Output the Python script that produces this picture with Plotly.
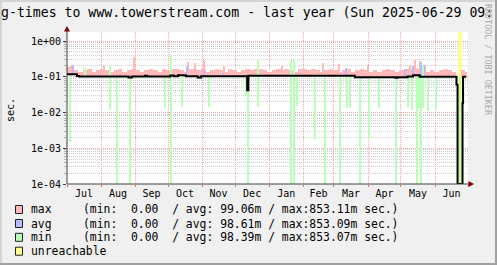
import plotly.graph_objects as go
import numpy as np
import pandas as pd

# ---------------- data ----------------
data_start = "2024-06-29 09:00"
data_end = "2025-06-29 09:00"

# median / main line (step function: value holds from date onward)
line_dates = ["2024-06-29 09:00", "2024-07-10", "2024-07-12", "2024-08-26", "2024-08-29",
              "2024-09-10", "2024-09-12", "2024-10-03", "2024-10-06", "2024-10-10",
              "2024-10-17", "2024-10-28", "2024-10-31", "2024-12-12 00:00", "2024-12-13 02:00",
              "2025-03-20", "2025-04-26", "2025-04-28", "2025-05-07", "2025-05-12",
              "2025-05-18", "2025-06-20 12:00", "2025-06-21 12:00", "2025-06-26 00:00",
              "2025-06-26 12:00"]
line_vals = [0.117, 0.105, 0.102, 0.096, 0.102,
             0.106, 0.102, 0.108, 0.104, 0.110,
             0.103, 0.096, 0.103, 0.042, 0.106,
             0.097, 0.094, 0.097, 0.102, 0.110,
             0.100, 0.060, 0.0001, 0.018,
             0.100]

# max band, 4-day bins from data_start
max_band = [0.19, 0.17, 0.15, 0.14, 0.15, 0.16, 0.14, 0.15, 0.17, 0.15,
            0.14, 0.15, 0.16, 0.14, 0.15, 0.16, 0.15, 0.14, 0.15, 0.16,
            0.15, 0.14, 0.16, 0.15, 0.17, 0.16, 0.15, 0.14, 0.16, 0.17,
            0.15, 0.16, 0.14, 0.15, 0.16, 0.15, 0.14, 0.16, 0.15, 0.14,
            0.15, 0.16, 0.15, 0.17, 0.16, 0.15, 0.14, 0.15, 0.16, 0.15,
            0.16, 0.15, 0.14, 0.16, 0.17, 0.15, 0.16, 0.15, 0.14, 0.15,
            0.16, 0.15, 0.14, 0.15, 0.16, 0.14, 0.15, 0.16, 0.15, 0.14,
            0.15, 0.14, 0.15, 0.16, 0.15, 0.14, 0.15, 0.16, 0.17, 0.18,
            0.17, 0.15, 0.14, 0.15, 0.14, 0.15, 0.16, 0.15, 0.14, None,
            0.15, 0.14]

# narrow max spikes
max_spike_dates = ["2024-07-05", "2024-08-04", "2024-08-31", "2024-10-19", "2024-10-26",
                   "2024-11-03", "2024-11-21", "2024-12-22", "2025-01-13", "2025-02-19",
                   "2025-03-06", "2025-04-01", "2025-05-09", "2025-05-14", "2025-05-18",
                   "2025-05-23"]
max_spike_vals = [0.20, 0.20, 0.36, 0.26, 0.24,
                  0.30, 0.20, 0.30, 0.20, 0.24,
                  0.23, 0.22, 0.22, 0.29, 0.27,
                  0.20]

# avg values that stand out above the line
avg_dates = ["2024-07-07", "2024-10-18", "2024-11-03", "2024-11-20", "2025-03-12",
             "2025-05-04 12:00", "2025-05-12 12:00", "2025-05-19", "2025-05-22"]
avg_vals = [0.21, 0.20, 0.15, 0.13, 0.18, 0.17, 0.20, 0.26, 0.22]

# min spikes: low value, and top value (None = up to the line)
min_dates = ["2024-07-04", "2024-07-18", "2024-08-09", "2024-08-15 18:00", "2024-08-27 12:00",
             "2024-09-28 12:00", "2024-10-03 16:00", "2024-10-13 22:00", "2024-11-07 12:00",
             "2024-12-10 20:00", "2024-12-13 06:00", "2024-12-22 02:00", "2025-01-21 12:00",
             "2025-01-23 14:00", "2025-01-26 02:00", "2025-02-11 16:00", "2025-02-21",
             "2025-03-07", "2025-03-12 20:00", "2025-03-15 14:00", "2025-03-25",
             "2025-04-01 20:00", "2025-04-11", "2025-04-27", "2025-05-07 16:00",
             "2025-05-10 20:00", "2025-05-15 08:00", "2025-05-17 16:00", "2025-05-19 20:00",
             "2025-05-21 08:00", "2025-05-25 20:00", "2025-06-01 20:00", "2025-06-23 16:00",
             "2025-06-26 16:00"]
min_lows = [0.0015, 0.105, 0.012, 0.0001, 0.0001,
            0.013, 0.0001, 0.014, 0.014,
            0.03, 0.0001, 0.014, 0.0001,
            0.0001, 0.015, 0.0018, 0.0001,
            0.0001, 0.013, 0.013, 0.0001,
            0.0018, 0.013, 0.0001, 0.014,
            0.012, 0.0001, 0.013, 0.0001,
            0.013, 0.011, 0.013, 0.0001,
            0.018]
min_highs = [None, 0.19, 0.20, None, None,
             None, 0.40, None, None,
             None, None, 0.30, 0.30,
             0.30, None, None, None,
             None, None, None, None,
             None, None, None, None,
             None, None, None, None,
             0.20, None, None, 0.10,
             None]

unreach_start = "2025-06-22 00:00"
unreach_end = "2025-06-25 12:00"

y_tickvals = [1e-4, 1e-3, 1e-2, 1e-1, 1]
y_ticktext = ["1e-04", "1e-03", "1e-02", "1e-01", "1e+00"]

legend_labels = ["max", "avg", "min", "unreachable"]
legend_stats = ["(min:\u00a0\u00a00.00\u00a0\u00a0/\u00a0avg:\u00a099.06m\u00a0/\u00a0max:853.11m\u00a0sec.)",
                "(min:\u00a0\u00a00.00\u00a0\u00a0/\u00a0avg:\u00a098.61m\u00a0/\u00a0max:853.09m\u00a0sec.)",
                "(min:\u00a0\u00a00.00\u00a0\u00a0/\u00a0avg:\u00a098.39m\u00a0/\u00a0max:853.07m\u00a0sec.)"]

title_text = "g-times to www.towerstream.com - last year (Sun 2025-06-29 09:"
watermark = "RRDTOOL / TOBI OETIKER"

C_MAX = "#ffb9b9"
C_AVG = "#b9b9ff"
C_MIN = "#b9ffb9"
C_UNR = "#ffff90"
DAY_MS = 86400000.0
MONO = "DejaVu Sans Mono"


# ---------------- helpers ----------------
def to_dt(v):
    return pd.to_datetime(pd.Series(v), format="mixed")


lt = to_dt(line_dates).values
lv = np.array(line_vals)


def line_at(t):
    t = np.asarray(t, dtype="datetime64[ns]")
    idx = np.searchsorted(lt, t, side="right") - 1
    idx = np.clip(idx, 0, len(lv) - 1)
    return lv[idx]


t0 = pd.Timestamp(data_start)
t_end = pd.Timestamp(data_end)
edges = [t0 + pd.Timedelta(days=4 * k) for k in range(len(max_band))] + [t_end]
centers = [edges[i] + (edges[i + 1] - edges[i]) / 2 for i in range(len(max_band))]
widths = [(edges[i + 1] - edges[i]).total_seconds() * 1000 for i in range(len(max_band))]
centers_np = np.array(centers, dtype="datetime64[ns]")
band_base = np.maximum(line_at(centers_np), 0.09)
band_top = np.array([np.nan if v is None else v for v in max_band])

msd = to_dt(max_spike_dates)
sp_base = np.maximum(line_at(msd.values), 0.09)
avd = to_dt(avg_dates)
avg_base = line_at(avd.values)
mnd = to_dt(min_dates)
min_line = line_at(mnd.values)
min_top = np.array([ml if h is None else max(h, ml) for ml, h in zip(min_line, min_highs)])
min_low = np.array(min_lows)

us, ue = pd.Timestamp(unreach_start), pd.Timestamp(unreach_end)

fig = go.Figure()

# unreachable band
fig.add_trace(go.Bar(x=[us + (ue - us) / 2], y=[10.0], base=[1e-4],
                     width=[(ue - us).total_seconds() * 1000],
                     marker=dict(color=C_UNR, line=dict(width=0)), name="unreachable"))
# max
fig.add_trace(go.Bar(x=centers, y=band_top - band_base, base=band_base, width=widths,
                     marker=dict(color=C_MAX, line=dict(width=0)), name="max"))
fig.add_trace(go.Bar(x=list(msd), y=np.array(max_spike_vals) - sp_base,
                     base=sp_base, width=[1.2 * DAY_MS] * len(max_spike_vals),
                     marker=dict(color=C_MAX, line=dict(width=0)), name="max", showlegend=False))
# avg
fig.add_trace(go.Bar(x=list(avd), y=np.array(avg_vals) - avg_base, base=avg_base,
                     width=[1.2 * DAY_MS] * len(avg_vals),
                     marker=dict(color=C_AVG, line=dict(width=0)), name="avg"))
# min
fig.add_trace(go.Bar(x=list(mnd), y=min_top - min_low, base=min_low,
                     width=[1.25 * DAY_MS] * len(min_lows),
                     marker=dict(color=C_MIN, line=dict(width=0)), name="min"))
# main line
fig.add_trace(go.Scatter(x=list(to_dt(line_dates)) + [t_end], y=list(line_vals) + [line_vals[-1]],
                         mode="lines", line=dict(color="black", width=2, shape="hv"), name="median"))

# ---------------- layout ----------------
L, R, T, B = 67, 468, 32, 184
W, H = 497, 265


def px(x):
    return (x - L) / (R - L)


def py(y):
    return (B - y) / (B - T)


MGRID = "#f0a8a8"
GRID = "#cfcfcf"

shapes = []
# frame
shapes.append(dict(type="rect", xref="paper", yref="paper", x0=px(0), x1=px(2), y0=py(0), y1=py(H),
                   fillcolor="#d4d4d4", line=dict(width=0), layer="above"))
shapes.append(dict(type="rect", xref="paper", yref="paper", x0=px(0), x1=px(W), y0=py(0), y1=py(2),
                   fillcolor="#d4d4d4", line=dict(width=0), layer="above"))
shapes.append(dict(type="rect", xref="paper", yref="paper", x0=px(W - 2), x1=px(W), y0=py(0), y1=py(H),
                   fillcolor="#a0a0a0", line=dict(width=0), layer="above"))
shapes.append(dict(type="rect", xref="paper", yref="paper", x0=px(0), x1=px(W), y0=py(H - 2), y1=py(H),
                   fillcolor="#a0a0a0", line=dict(width=0), layer="above"))
# axis extensions + arrows
shapes.append(dict(type="line", xref="paper", yref="paper", x0=px(67), x1=px(67), y0=py(184), y1=py(29),
                   line=dict(color="#404040", width=1), layer="above"))
shapes.append(dict(type="line", xref="paper", yref="paper", x0=px(67), x1=px(471), y0=py(184), y1=py(184),
                   line=dict(color="#404040", width=1), layer="above"))
shapes.append(dict(type="path", xref="paper", yref="paper",
                   path=f"M {px(67)},{py(26)} L {px(64)},{py(31.5)} L {px(70)},{py(31.5)} Z",
                   fillcolor="#7f0000", line=dict(width=0), layer="above"))
shapes.append(dict(type="path", xref="paper", yref="paper",
                   path=f"M {px(474)},{py(184)} L {px(468.5)},{py(181)} L {px(468.5)},{py(187)} Z",
                   fillcolor="#7f0000", line=dict(width=0), layer="above"))
# legend boxes
leg_y = [209.5, 223.5, 237.3, 251.2]
leg_cols = [C_MAX, C_AVG, C_MIN, C_UNR]
for yy, cc in zip(leg_y, leg_cols):
    shapes.append(dict(type="rect", xref="paper", yref="paper", x0=px(15.5), x1=px(22.5),
                       y0=py(yy - 4), y1=py(yy + 4), fillcolor=cc,
                       line=dict(color="#202020", width=1), layer="above"))

annotations = []
annotations.append(dict(text=title_text, xref="paper", yref="paper", x=px(0), y=py(12.5),
                        xanchor="left", yanchor="middle", showarrow=False, borderpad=0,
                        font=dict(family=MONO, size=13.2, color="black")))
annotations.append(dict(text=watermark, xref="paper", yref="paper", x=px(488), y=py(60),
                        xanchor="center", yanchor="middle", showarrow=False, textangle=90, borderpad=0,
                        font=dict(family=MONO, size=8.4, color="#a8a8a8")))
annotations.append(dict(text="sec.", xref="paper", yref="paper", x=px(11), y=py(110),
                        xanchor="center", yanchor="middle", showarrow=False, textangle=-90, borderpad=0,
                        font=dict(family=MONO, size=10, color="black")))
for i, lab in enumerate(legend_labels):
    annotations.append(dict(text=lab, xref="paper", yref="paper", x=px(30), y=py(leg_y[i]),
                            xanchor="left", yanchor="middle", showarrow=False, borderpad=0,
                            font=dict(family=MONO, size=11.4, color="black")))
for i, st in enumerate(legend_stats):
    annotations.append(dict(text=st, xref="paper", yref="paper", x=px(82), y=py(leg_y[i]),
                            xanchor="left", yanchor="middle", showarrow=False, borderpad=0,
                            font=dict(family=MONO, size=11.4, color="black")))

fig.update_layout(
    width=W, height=H, autosize=False,
    margin=dict(l=L, r=W - R, t=T, b=H - B, pad=0),
    paper_bgcolor="#f0f0f0", plot_bgcolor="white",
    barmode="overlay", bargap=0, showlegend=False,
    shapes=shapes, annotations=annotations,
    xaxis=dict(type="date", range=["2024-07-01", "2025-07-01"],
               tick0="2024-07-01", dtick="M1", tickformat="%b", ticklabelmode="period",
               showgrid=True, gridcolor=MGRID, griddash="1px,1px", gridwidth=1,
               ticks="outside", ticklen=2, tickcolor="#e07070", ticklabelstandoff=-2,
               showline=False, zeroline=False,
               tickfont=dict(family=MONO, size=10, color="black")),
    yaxis=dict(type="log", range=[-4, 0.2517],
               tickmode="array", tickvals=y_tickvals, ticktext=y_ticktext,
               showgrid=True, gridcolor=MGRID, griddash="1px,1px", gridwidth=1,
               ticks="outside", ticklen=3, tickcolor="#404040",
               minor=dict(dtick="D1", showgrid=True, gridcolor=GRID, griddash="1px,1px",
                          ticks="outside", ticklen=2, tickcolor="#b0b0b0"),
               showline=False, zeroline=False,
               tickfont=dict(family=MONO, size=10, color="black")),
)

fig.write_html("out.html")
